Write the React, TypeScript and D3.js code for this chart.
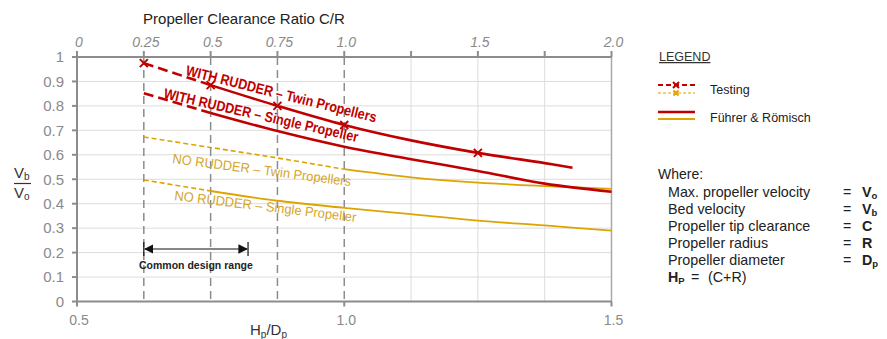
import React from 'react';
import * as d3 from 'd3';

// top axis: propeller clearance ratio C/R
const crTicks = [0, 0.25, 0.5, 0.75, 1.0, 1.25, 1.5, 1.75, 2.0];
const crLabels = ['0', '0.25', '0.5', '0.75', '1.0', '', '1.5', '', '2.0'];
const crDashed = [0.25, 0.5, 0.75, 1.0];
// bottom axis: Hp/Dp
const hpTicks = [0.5, 1.0, 1.5];
const hpLabels = ['0.5', '1.0', '1.5'];
const yTicks = [0, 0.1, 0.2, 0.3, 0.4, 0.5, 0.6, 0.7, 0.8, 0.9, 1];

// WITH RUDDER - twin propellers
const twinTestHp = [0.625, 0.75];
const twinTestV = [0.975, 0.885];
const twinMarkHp = [0.625, 0.75, 0.875, 1.0, 1.25];
const twinMarkV = [0.975, 0.885, 0.8, 0.722, 0.608];
const twinFrHp = [0.75, 0.875, 1.0, 1.125, 1.25, 1.375, 1.427];
const twinFrV = [0.885, 0.8, 0.722, 0.659, 0.608, 0.566, 0.547];
// WITH RUDDER - single propeller
const singleTestHp = [0.625, 0.75];
const singleTestV = [0.852, 0.771];
const singleFrHp = [0.75, 0.875, 1.0, 1.125, 1.25, 1.375, 1.5];
const singleFrV = [0.771, 0.697, 0.633, 0.582, 0.534, 0.482, 0.449];
// NO RUDDER - twin propellers
const noTwinTestHp = [0.625, 0.75, 0.875, 1.0];
const noTwinTestV = [0.673, 0.63, 0.587, 0.541];
const noTwinFrHp = [1.0, 1.125, 1.25, 1.375, 1.5];
const noTwinFrV = [0.541, 0.508, 0.486, 0.472, 0.461];
// NO RUDDER - single propeller
const noSingleTestHp = [0.625, 0.75];
const noSingleTestV = [0.497, 0.452];
const noSingleFrHp = [0.75, 0.875, 1.0, 1.125, 1.25, 1.375, 1.5];
const noSingleFrV = [0.452, 0.412, 0.383, 0.357, 0.331, 0.311, 0.29];

const designRange = [0.625, 0.82];

const RED = '#C00000';
const GOLD = '#DDA400';
const GOLD_TEXT = '#D4A52C';
const AXIS = '#8c8c8c';
const GRID = '#dcdcdc';
const LABEL = '#8a8a8a';
const FONT = '"Liberation Sans", Arial, sans-serif';

const W = 887;
const H = 339;
const x = d3.scaleLinear().domain([0.5, 1.5]).range([77, 611.5]);
const xTop = d3.scaleLinear().domain([0, 2]).range([77, 611.5]);
const y = d3.scaleLinear().domain([0, 1]).range([301.5, 57]);

const line = d3.line<number[]>()
  .x(d => x(d[0]))
  .y(d => y(d[1]))
  .curve(d3.curveCatmullRom.alpha(0.5));

const zip = (a: number[], b: number[]) => a.map((v, i) => [v, b[i]]);

const Cross = ({ cx, cy, color, s = 4 }: { cx: number; cy: number; color: string; s?: number }) => (
  <path d={`M${cx - s},${cy - s}L${cx + s},${cy + s}M${cx - s},${cy + s}L${cx + s},${cy - s}`} stroke={color} strokeWidth={2} />
);

const App: React.FC = () => {
  const x0 = x(0.5);
  const x1 = x(1.5);
  const yb = y(0);
  const yt = y(1);

  const legendRows = [
    ['Max. propeller velocity', 'V', 'o'],
    ['Bed velocity', 'V', 'b'],
    ['Propeller tip clearance', 'C', ''],
    ['Propeller radius', 'R', ''],
    ['Propeller diameter', 'D', 'p'],
  ];

  return (
    <div style={{ position: 'absolute', left: 0, top: 0 }}>
      <svg width={W} height={H} style={{ display: 'block', background: '#fff', fontFamily: FONT }}>
        <defs>
          <marker id="arr" viewBox="0 0 10 10" refX="9" refY="5" markerWidth="8" markerHeight="8" orient="auto-start-reverse">
            <path d="M0,0L10,5L0,10z" fill="#111" />
          </marker>
        </defs>

        {/* horizontal grid */}
        {yTicks.map(t => (
          <line key={'gy' + t} x1={x0} x2={x1} y1={y(t)} y2={y(t)} stroke={GRID} strokeWidth={1} />
        ))}
        {/* vertical grid (light) */}
        {crTicks.filter(t => !crDashed.includes(t) && t > 0).map(t => (
          <line key={'gx' + t} x1={xTop(t)} x2={xTop(t)} y1={yt} y2={yb} stroke={t === 2 ? '#a8a8a8' : GRID} strokeWidth={t === 2 ? 1.5 : 1} />
        ))}
        {/* dashed guide lines */}
        {crDashed.map(t => (
          <line key={'dx' + t} x1={xTop(t)} x2={xTop(t)} y1={yt} y2={yb} stroke={AXIS} strokeWidth={1.5} strokeDasharray="8,5" />
        ))}

        {/* axes */}
        <line x1={x0} x2={x1} y1={yt} y2={yt} stroke={AXIS} strokeWidth={2} />
        <line x1={x0} x2={x1} y1={yb} y2={yb} stroke={AXIS} strokeWidth={2} />
        <line x1={x0} x2={x0} y1={yt} y2={yb} stroke={AXIS} strokeWidth={2} />
        {yTicks.map(t => (
          <g key={'yt' + t}>
            <line x1={x0 - 5} x2={x0} y1={y(t)} y2={y(t)} stroke={AXIS} strokeWidth={2} />
            <text x={64} y={y(t)} dy="0.35em" textAnchor="end" fontSize={15} fill={LABEL}>{String(t)}</text>
          </g>
        ))}
        {crTicks.map((t, i) => (
          <g key={'ct' + t}>
            <line x1={xTop(t)} x2={xTop(t)} y1={yt - 6} y2={yt} stroke={AXIS} strokeWidth={2} />
            <text x={xTop(t) + 2} y={47} textAnchor="middle" fontSize={14} fontStyle="italic" fill={LABEL}>{crLabels[i]}</text>
          </g>
        ))}
        {hpTicks.map((t, i) => (
          <g key={'ht' + t}>
            <line x1={x(t)} x2={x(t)} y1={yb} y2={yb + 5} stroke={AXIS} strokeWidth={2} />
            <text x={x(t) + 2} y={325} textAnchor="middle" fontSize={14} fill={LABEL}>{hpLabels[i]}</text>
          </g>
        ))}

        {/* titles */}
        <text x={244} y={24} textAnchor="middle" fontSize={15} fill="#222">Propeller Clearance Ratio C/R</text>
        <text x={250} y={335} fontSize={15} fill="#333">
          H<tspan fontSize={10} dy={3}>p</tspan><tspan dy={-3}>/D</tspan><tspan fontSize={10} dy={3}>p</tspan>
        </text>
        <g fill="#333" fontSize={15}>
          <text x={14} y={178}>V<tspan fontSize={10} dy={2}>b</tspan></text>
          <line x1={14} x2={31} y1={183.5} y2={183.5} stroke="#333" strokeWidth={1.2} />
          <text x={14} y={198}>V<tspan fontSize={10} dy={2}>o</tspan></text>
        </g>

        {/* NO RUDDER curves */}
        <path d={line(zip(noTwinTestHp, noTwinTestV)) ?? ''} fill="none" stroke={GOLD} strokeWidth={1.6} strokeDasharray="5,3" />
        <path d={line(zip(noTwinFrHp, noTwinFrV)) ?? ''} fill="none" stroke={GOLD} strokeWidth={1.8} />
        <path d={line(zip(noSingleTestHp, noSingleTestV)) ?? ''} fill="none" stroke={GOLD} strokeWidth={1.6} strokeDasharray="5,3" />
        <path d={line(zip(noSingleFrHp, noSingleFrV)) ?? ''} fill="none" stroke={GOLD} strokeWidth={1.8} />

        {/* WITH RUDDER curves */}
        <path d={line(zip(twinTestHp, twinTestV)) ?? ''} fill="none" stroke={RED} strokeWidth={2.6} strokeDasharray="10,5" />
        <path d={line(zip(twinFrHp, twinFrV)) ?? ''} fill="none" stroke={RED} strokeWidth={2.6} />
        <path d={line(zip(singleTestHp, singleTestV)) ?? ''} fill="none" stroke={RED} strokeWidth={2.6} strokeDasharray="10,5" />
        <path d={line(zip(singleFrHp, singleFrV)) ?? ''} fill="none" stroke={RED} strokeWidth={2.6} />
        {twinMarkHp.map((h, i) => (
          <Cross key={'m' + h} cx={x(h)} cy={y(twinMarkV[i])} color={RED} />
        ))}

        {/* curve labels */}
        <text transform="translate(185,75) rotate(14)" fontSize={14.5} fontWeight="bold" fill={RED}
          textLength={196} lengthAdjust="spacingAndGlyphs">WITH RUDDER – Twin Propellers</text>
        <text transform="translate(163,98) rotate(12.8)" fontSize={14.5} fontWeight="bold" fill={RED}
          textLength={199} lengthAdjust="spacingAndGlyphs">WITH RUDDER – Single Propeller</text>
        <text transform="translate(172,163) rotate(7.4)" fontSize={13.5} fill={GOLD_TEXT}
          textLength={180} lengthAdjust="spacingAndGlyphs">NO RUDDER – Twin Propellers</text>
        <text transform="translate(174,200) rotate(6.9)" fontSize={13.5} fill={GOLD_TEXT}
          textLength={183} lengthAdjust="spacingAndGlyphs">NO RUDDER – Single Propeller</text>

        {/* common design range */}
        <line x1={x(designRange[0])} x2={x(designRange[0])} y1={242} y2={256} stroke="#111" strokeWidth={1.2} />
        <line x1={x(designRange[1])} x2={x(designRange[1])} y1={242} y2={256} stroke="#111" strokeWidth={1.2} />
        <line x1={x(designRange[0]) + 1} x2={x(designRange[1]) - 1} y1={249} y2={249} stroke="#111" strokeWidth={1.2}
          markerStart="url(#arr)" markerEnd="url(#arr)" />
        <text x={(x(designRange[0]) + x(designRange[1])) / 2} y={269} textAnchor="middle" fontSize={10.5} fontWeight="bold" fill="#222">Common design range</text>

        {/* legend */}
        <text x={659} y={61} fontSize={12.5} fill="#333" textDecoration="underline">LEGEND</text>
        <line x1={658} x2={695} y1={85} y2={85} stroke={RED} strokeWidth={2} strokeDasharray="5,3" />
        <Cross cx={676} cy={85} color={RED} s={3} />
        <line x1={658} x2={695} y1={93} y2={93} stroke={GOLD} strokeWidth={1.2} strokeDasharray="3,2" />
        <Cross cx={676} cy={93} color={GOLD} s={2.5} />
        <text x={710} y={94} fontSize={12.5} fill="#222">Testing</text>
        <line x1={658} x2={695} y1={112} y2={112} stroke={RED} strokeWidth={2.5} />
        <line x1={658} x2={695} y1={119} y2={119} stroke={GOLD} strokeWidth={1.8} />
        <text x={710} y={122} fontSize={12.5} fill="#222">Führer &amp; Römisch</text>

        <text x={658} y={179} fontSize={14} fill="#222">Where:</text>
        {legendRows.map((r, i) => (
          <g key={r[0]} fontSize={14.3} fill="#222">
            <text x={668} y={197 + i * 17}>{r[0]}</text>
            <text x={843} y={197 + i * 17}>=</text>
            <text x={862} y={197 + i * 17} fontWeight="bold">{r[1]}<tspan fontSize={9.5} dy={2}>{r[2]}</tspan></text>
          </g>
        ))}
        <text x={668} y={282} fontSize={14.3} fill="#222">
          <tspan fontWeight="bold">H</tspan><tspan fontWeight="bold" fontSize={9.5} dy={2}>P</tspan>
        </text>
        <text x={691} y={282} fontSize={14.3} fill="#222">=</text>
        <text x={708} y={282} fontSize={14.3} fill="#222">(C+R)</text>
      </svg>
    </div>
  );
};

export default App;
